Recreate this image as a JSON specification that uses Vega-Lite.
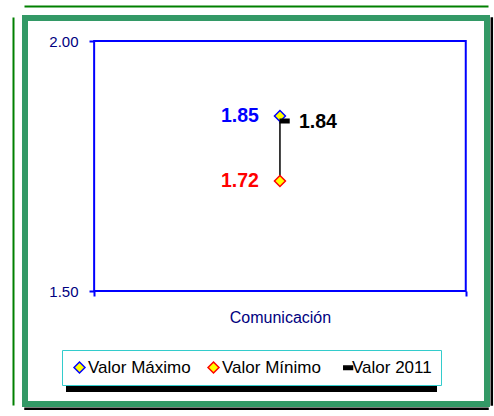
{
  "$schema": "https://vega.github.io/schema/vega-lite/v6.json",
  "width": 462,
  "height": 386,
  "autosize": {"type": "none"},
  "padding": {"left": 25, "top": 18, "right": 7, "bottom": 12},
  "background": "white",
  "data": {
    "values": [
      {"indicador": "Comunicación", "serie": "Valor Máximo", "valor": 1.85},
      {"indicador": "Comunicación", "serie": "Valor Mínimo", "valor": 1.72},
      {"indicador": "Comunicación", "serie": "Valor 2011", "valor": 1.84}
    ]
  },
  "resolve": {"axis": {"x": "independent", "y": "independent"}},
  "layer": [
    {
      "transform": [{"filter": "datum.serie === 'Valor 2011'"}],
      "mark": {"type": "rect", "filled": false, "color": "#0000ff", "strokeWidth": 2},
      "encoding": {
        "x": {
          "field": "indicador", "type": "nominal",
          "scale": {"type": "band", "paddingInner": 0, "paddingOuter": 0.1216, "align": 0.765},
          "axis": {
            "orient": "bottom", "offset": -113, "title": null, "domain": false, "grid": false,
            "tickBand": "extent", "tickSize": 5, "tickColor": "#0000ff", "tickWidth": 2,
            "labelFont": "Liberation Sans", "labelFontSize": 16, "labelColor": "#000080",
            "labelPadding": 13, "labelAngle": 0
          }
        },
        "y": {
          "datum": 1.5, "type": "quantitative",
          "scale": {"domain": [1.274, 2.046], "nice": false, "zero": false},
          "axis": {
            "orient": "left", "offset": -69, "title": null, "domain": false, "grid": false,
            "values": [1.5, 2.0], "format": ".2f",
            "tickSize": 5, "tickColor": "#0000ff", "tickWidth": 2,
            "labelFont": "Liberation Sans", "labelFontSize": 15, "labelColor": "#000080",
            "labelPadding": 11
          }
        },
        "y2": {"datum": 2.0}
      }
    },
    {
      "transform": [{"filter": "datum.serie !== 'Valor 2011'"}],
      "mark": {"type": "rule", "color": "#000000", "strokeWidth": 1.5},
      "encoding": {
        "x": {
          "field": "indicador", "type": "nominal",
          "axis": {"orient": "top", "offset": 12, "title": null, "labels": false, "ticks": false, "grid": false,
                   "domain": true, "domainColor": "#008000", "domainWidth": 2, "domainCap": "square"}
        },
        "y": {
          "field": "valor", "type": "quantitative", "aggregate": "min",
          "axis": {"orient": "left", "offset": 12, "title": null, "labels": false, "ticks": false, "grid": false,
                   "domain": true, "domainColor": "#008000", "domainWidth": 2, "domainCap": "square"}
        },
        "y2": {"field": "valor", "aggregate": "max"}
      }
    },
    {
      "mark": {"type": "point", "size": 120, "strokeWidth": 1.5, "opacity": 1, "filled": true},
      "encoding": {
        "x": {
          "field": "indicador", "type": "nominal",
          "axis": {"orient": "bottom", "offset": 4.3, "title": null, "labels": false, "ticks": false, "grid": false,
                   "domain": true, "domainColor": "#000000", "domainWidth": 2.5, "domainCap": "square"}
        },
        "y": {
          "field": "valor", "type": "quantitative",
          "axis": {"orient": "right", "offset": 4.3, "title": null, "labels": false, "ticks": false, "grid": false,
                   "domain": true, "domainColor": "#000000", "domainWidth": 2.5, "domainCap": "square"}
        },
        "shape": {
          "field": "serie", "type": "nominal",
          "scale": {"domain": ["Valor Máximo", "Valor Mínimo", "Valor 2011"],
                    "range": ["diamond", "diamond", "M0.05,-0.3H1.65V0.3H0.05Z"]},
          "legend": {
            "title": null, "zindex": 2,
            "encode": {
              "labels": {"update": {"fill": {"signal": "datum.value === 'Valor Máximo' ? '#0000ff' : datum.value === 'Valor Mínimo' ? '#ff0000' : '#000000'"}}},
              "symbols": {"update": {"shape": {"signal": "datum.value === 'Valor 2011' ? 'M0.2,-0.15H1.6V0.15H0.2Z' : 'diamond'"}}},
              "legend": {"update": {"strokeWidth": {"value": 2}}}
            }
          }
        },
        "fill": {
          "field": "serie", "type": "nominal",
          "scale": {"domain": ["Valor Máximo", "Valor Mínimo", "Valor 2011"],
                    "range": ["#ffff00", "#ffff00", "#000000"]},
          "legend": {
            "title": null, "zindex": 2,
            "encode": {
              "labels": {"update": {"fill": {"signal": "datum.value === 'Valor Máximo' ? '#0000ff' : datum.value === 'Valor Mínimo' ? '#ff0000' : '#000000'"}}},
              "symbols": {"update": {"shape": {"signal": "datum.value === 'Valor 2011' ? 'M0.2,-0.15H1.6V0.15H0.2Z' : 'diamond'"}}},
              "legend": {"update": {"strokeWidth": {"value": 2}}}
            }
          }
        },
        "stroke": {
          "field": "serie", "type": "nominal",
          "scale": {"domain": ["Valor Máximo", "Valor Mínimo", "Valor 2011"],
                    "range": ["#0000ff", "#ff0000", "#000000"]},
          "legend": {
            "title": null, "zindex": 2,
            "encode": {
              "labels": {"update": {"fill": {"signal": "datum.value === 'Valor Máximo' ? '#0000ff' : datum.value === 'Valor Mínimo' ? '#ff0000' : '#000000'"}}},
              "symbols": {"update": {"shape": {"signal": "datum.value === 'Valor 2011' ? 'M0.2,-0.15H1.6V0.15H0.2Z' : 'diamond'"}}},
              "legend": {"update": {"strokeWidth": {"value": 2}}}
            }
          }
        }
      }
    },
    {
      "transform": [{"filter": "datum.serie !== 'Valor 2011'"}],
      "mark": {"type": "text", "align": "right", "baseline": "middle", "dx": -21, "dy": 0,
               "font": "Liberation Sans", "fontSize": 19.5, "fontWeight": "bold"},
      "encoding": {
        "x": {"field": "indicador", "type": "nominal", "axis": null},
        "y": {"field": "valor", "type": "quantitative", "axis": null},
        "text": {"field": "valor", "type": "quantitative", "format": ".2f"},
        "color": {
          "field": "serie", "type": "nominal",
          "scale": {"domain": ["Valor 2011", "Valor Máximo", "Valor Mínimo"],
                    "range": ["#000000", "#0000ff", "#ff0000"]},
          "legend": {
            "title": null, "zindex": 0, "legendX": 42, "legendY": 337,
            "fillColor": "#000000", "strokeColor": "#000000",
            "labelExpr": "''", "labelOffset": 0, "symbolType": "square", "symbolSize": 289,
            "columnPadding": 147,
            "encode": {
              "legend": {"update": {"strokeWidth": {"value": 2}}}
            }
          }
        }
      }
    },
    {
      "transform": [{"filter": "datum.serie === 'Valor 2011'"}],
      "mark": {"type": "text", "align": "left", "baseline": "middle", "dx": 19, "dy": 1,
               "font": "Liberation Sans", "fontSize": 19.5, "fontWeight": "bold"},
      "encoding": {
        "x": {"field": "indicador", "type": "nominal", "axis": null},
        "y": {"field": "valor", "type": "quantitative", "axis": null},
        "text": {"field": "valor", "type": "quantitative", "format": ".2f"},
        "color": {
          "field": "serie", "type": "nominal",
          "scale": {"domain": ["Valor 2011", "Valor Máximo", "Valor Mínimo"],
                    "range": ["#000000", "#0000ff", "#ff0000"]},
          "legend": {
            "title": null, "zindex": 0, "legendX": 42, "legendY": 337,
            "fillColor": "#000000", "strokeColor": "#000000",
            "labelExpr": "''", "labelOffset": 0, "symbolType": "square", "symbolSize": 289,
            "columnPadding": 147,
            "encode": {
              "legend": {"update": {"strokeWidth": {"value": 2}}}
            }
          }
        }
      }
    }
  ],
  "config": {
    "font": "Liberation Sans",
    "view": {"stroke": "#339966", "strokeWidth": 6, "fill": "white"},
    "legend": {
      "orient": "none", "legendX": 37, "legendY": 332,
      "direction": "horizontal", "columns": 3,
      "labelFont": "Liberation Sans", "labelFontSize": 17,
      "symbolSize": 120, "symbolStrokeWidth": 1.5, "labelOffset": 0,
      "columnPadding": 14, "padding": 9,
      "strokeColor": "#33cccc", "fillColor": "white"
    }
  }
}
